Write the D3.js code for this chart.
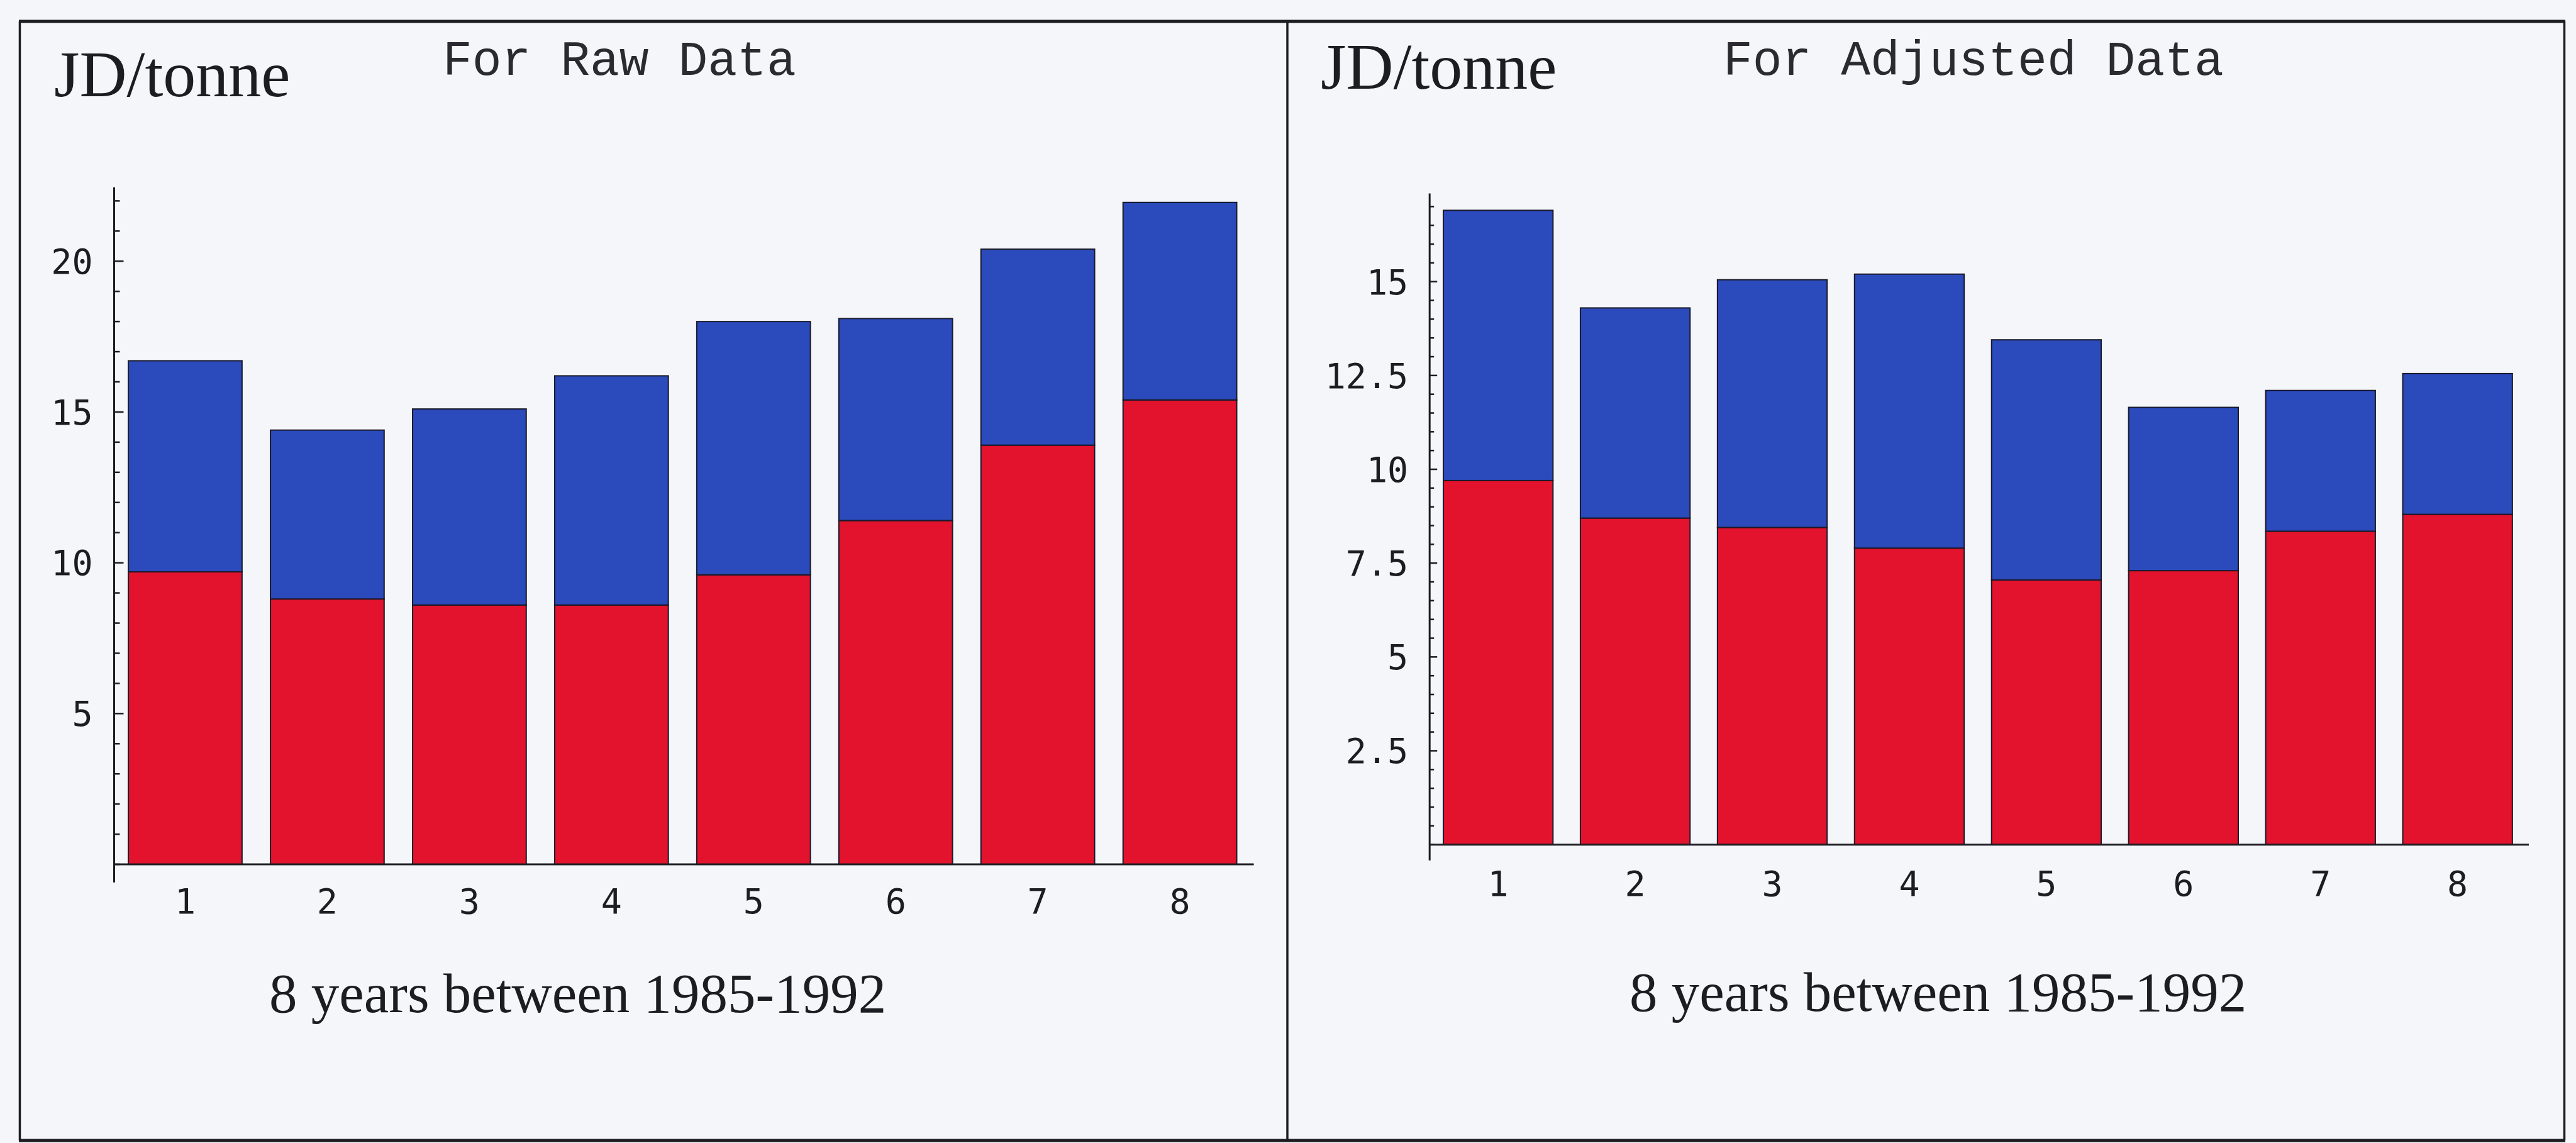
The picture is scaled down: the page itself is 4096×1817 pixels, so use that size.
<!DOCTYPE html>
<html lang="en">
<head>
  <meta charset="UTF-8">
  <title>JD/tonne bars</title>
  <style>
html, body { margin: 0; padding: 0; background: #f5f6fa; }
svg { display: block; }
  </style>
</head>
<body>
<div id="wrapper"></div>
<script src="https://cdnjs.cloudflare.com/ajax/libs/d3/7.8.5/d3.min.js"></script>
<script>

// DATA
const years = [1, 2, 3, 4, 5, 6, 7, 8]
const rawRed  = [9.7, 8.8, 8.6, 8.6, 9.6, 11.4, 13.9, 15.4]
const rawBlue = [7.0, 5.6, 6.5, 7.6, 8.4, 6.7, 6.5, 6.55]
const adjRed  = [9.7, 8.7, 8.45, 7.9, 7.05, 7.3, 8.35, 8.8]
const adjBlue = [7.2, 5.6, 6.6, 7.3, 6.4, 4.35, 3.75, 3.75]
const rawTicks = [5, 10, 15, 20]
const adjTicks = [2.5, 5, 7.5, 10, 12.5, 15]
const unitLabel = "JD/tonne"
const xLabel = "8 years between 1985-1992"

const colors = { red: "#e3122d", blue: "#2b4abb" }
const ink = "#1c1c22"

// layout, px in the 4096 x 1817 window
const panels = [
  {
    title: "For Raw Data", red: rawRed, blue: rawBlue, ticks: rawTicks, minorStep: 1,
    yDomain: [-0.6, 22.45], xDomain: [0.5, 8.52],
    xRange: [181.5, 1993.6], yRange: [1402.8, 297.8],
    majorLen: 15, minorLen: 9,
    unitPos: [86, 153], titlePos: [704, 119], xLabelPos: [428, 1609], tickBase: 1452,
  },
  {
    title: "For Adjusted Data", red: adjRed, blue: adjBlue, ticks: adjTicks, minorStep: 0.5,
    yDomain: [-0.42, 17.35], xDomain: [0.5, 8.52],
    xRange: [2273.2, 4021], yRange: [1367.7, 307.5],
    majorLen: 12, minorLen: 7,
    unitPos: [2100, 141], titlePos: [2740, 119], xLabelPos: [2591, 1607], tickBase: 1424,
  },
]

const width = 4096
const height = 1817

const svg = d3.select("#wrapper")
  .append("svg")
  .attr("width", width)
  .attr("height", height)

svg.append("rect")
  .attr("width", width)
  .attr("height", height)
  .attr("fill", "#f5f6fa")

// frames: two boxes sharing the middle line
const frame = svg.append("g").attr("stroke", ink).attr("fill", "none")
frame.append("line").attr("x1", 30).attr("x2", 4079).attr("y1", 34).attr("y2", 34).attr("stroke-width", 5)
frame.append("line").attr("x1", 30).attr("x2", 4079).attr("y1", 1813).attr("y2", 1813).attr("stroke-width", 5)
;[31.5, 2047, 4077.5].forEach(x => {
  frame.append("line").attr("x1", x).attr("x2", x).attr("y1", 34).attr("y2", 1813).attr("stroke-width", 3.5)
})

panels.forEach(p => {
  const rows = years.map((yr, i) => ({ year: yr, red: p.red[i], blue: p.blue[i] }))
  const series = d3.stack().keys(["red", "blue"])(rows)

  const xScale = d3.scaleLinear().domain(p.xDomain).range(p.xRange)
  const yScale = d3.scaleLinear().domain(p.yDomain).range(p.yRange)
  const barW = (xScale(1.8) - xScale(1))

  const g = svg.append("g")

  // bars
  g.selectAll("g.series")
    .data(series)
    .join("g")
    .attr("class", "series")
    .attr("fill", d => colors[d.key])
    .selectAll("rect")
    .data(d => d)
    .join("rect")
    .attr("x", d => xScale(d.data.year) - barW / 2)
    .attr("width", barW)
    .attr("y", d => yScale(d[1]))
    .attr("height", d => yScale(d[0]) - yScale(d[1]))
    .attr("stroke", "#1a1a2a")
    .attr("stroke-width", 2)

  // y axis: line plus inward ticks
  const yAxis = g.append("g").attr("stroke", ink)
  yAxis.append("line")
    .attr("x1", xScale(0.5)).attr("x2", xScale(0.5))
    .attr("y1", yScale(p.yDomain[0])).attr("y2", yScale(p.yDomain[1]))
    .attr("stroke-width", 3)
  const minor = d3.range(0, p.yDomain[1], p.minorStep)
  yAxis.selectAll("line.tick")
    .data(minor)
    .join("line")
    .attr("class", "tick")
    .attr("x1", xScale(0.5))
    .attr("x2", d => xScale(0.5) + (p.ticks.includes(d) ? p.majorLen : p.minorLen))
    .attr("y1", d => yScale(d)).attr("y2", d => yScale(d))
    .attr("stroke-width", 2.5)

  g.selectAll("text.ylab")
    .data(p.ticks)
    .join("text")
    .attr("class", "ylab")
    .attr("x", xScale(0.5) - 34)
    .attr("y", d => yScale(d))
    .attr("dy", "0.36em")
    .attr("text-anchor", "end")
    .attr("font-family", "'DejaVu Sans Mono', monospace")
    .attr("font-size", 55)
    .attr("fill", ink)
    .text(d => d)

  // x axis
  g.append("line")
    .attr("x1", xScale(p.xDomain[0])).attr("x2", xScale(p.xDomain[1]))
    .attr("y1", yScale(0)).attr("y2", yScale(0))
    .attr("stroke", ink).attr("stroke-width", 3)

  g.selectAll("text.xlab")
    .data(years)
    .join("text")
    .attr("class", "xlab")
    .attr("x", d => xScale(d))
    .attr("y", p.tickBase)
    .attr("text-anchor", "middle")
    .attr("font-family", "'DejaVu Sans Mono', monospace")
    .attr("font-size", 55)
    .attr("fill", ink)
    .text(d => d)

  // texts
  g.append("text")
    .attr("x", p.unitPos[0]).attr("y", p.unitPos[1])
    .attr("font-family", "'Liberation Serif', 'Times New Roman', serif")
    .attr("font-size", 104)
    .attr("fill", ink)
    .text(unitLabel)

  g.append("text")
    .attr("x", p.titlePos[0]).attr("y", p.titlePos[1])
    .attr("font-family", "'Liberation Mono', 'Courier New', monospace")
    .attr("font-size", 78)
    .attr("fill", "#2a2a30")
    .text(p.title)

  g.append("text")
    .attr("x", p.xLabelPos[0]).attr("y", p.xLabelPos[1])
    .attr("font-family", "'Liberation Serif', 'Times New Roman', serif")
    .attr("font-size", 89)
    .attr("fill", ink)
    .text(xLabel)
})

</script>
</body>
</html>
